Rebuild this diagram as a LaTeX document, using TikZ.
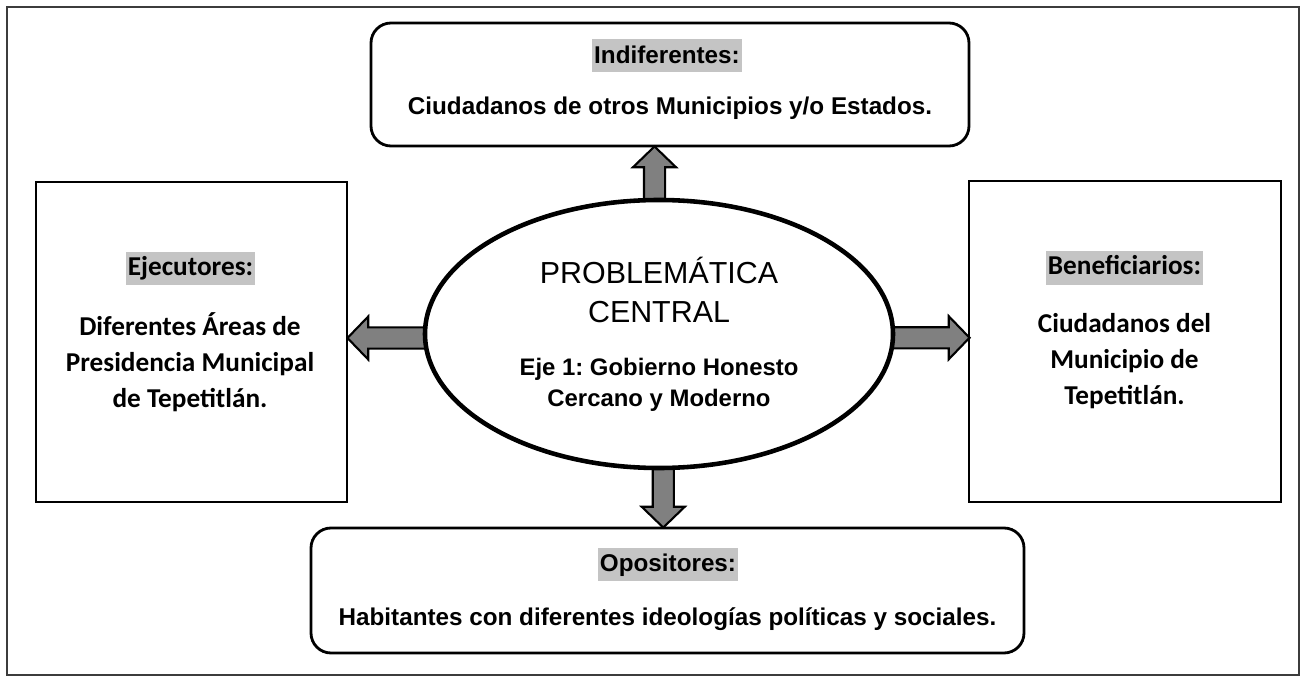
\documentclass[tikz,border=0pt]{standalone}
\usepackage{fontspec}
\setmainfont{Liberation Sans}
\newfontfamily\calibrifont{Carlito}
\usepackage{tikz}
\usetikzlibrary{shapes.geometric, shapes.arrows, positioning, calc, backgrounds}
\definecolor{arrowgray}{RGB}{128,128,128}
\definecolor{hlgray}{RGB}{196,196,196}
\definecolor{framegray}{RGB}{60,60,60}
\tikzstyle{pageframe} = [rectangle, draw=framegray, line width=0.8pt, inner sep=0pt]
\tikzstyle{roundbox} = [rectangle, rounded corners=0.4cm, draw=black, line width=1.6pt, inner sep=0pt]
\tikzstyle{sidebox} = [rectangle, draw=black, line width=1.6pt, inner sep=0pt]
\tikzstyle{central} = [ellipse, draw=black, line width=2.6pt, fill=white, inner sep=0pt]
\tikzstyle{blockarrow} = [single arrow, draw=black, line width=1.2pt, fill=arrowgray, inner xsep=0pt, inner ysep=0.19cm, single arrow head extend=0.22cm, single arrow tip angle=92]
\tikzstyle{arialhead} = [fill=hlgray, inner xsep=1pt, inner ysep=0pt, text height=0.48cm, text depth=0.18cm, font=\fontsize{13.8}{16}\selectfont\bfseries]
\tikzstyle{arialtext} = [inner sep=0pt, font=\fontsize{13.8}{16}\selectfont\bfseries]
\tikzstyle{calibrihead} = [fill=hlgray, inner xsep=1pt, inner ysep=0pt, text height=0.47cm, text depth=0.19cm, font=\calibrifont\fontsize{15.5}{18}\selectfont\bfseries]
\tikzstyle{calibritext} = [align=center, inner sep=0pt, font=\calibrifont\fontsize{15.5}{20.5}\selectfont\bfseries]

\begin{document}
\frenchspacing
\begin{tikzpicture}

\useasboundingbox (0,0) rectangle (26.08,-13.54);

% Page frame
\node[pageframe, minimum width=25.84cm, minimum height=13.36cm] (frame) at (13.06,-6.82) {};

% Central problem
\node[central, minimum width=9.36cm, minimum height=5.36cm] (prob) at (13.18,-6.68) {};
\node[align=center, inner sep=0pt, font=\fontsize{17.3}{22.2}\selectfont] (probtitle) at (13.18,-5.80) {PROBLEM\'ATICA\\CENTRAL};
\node[align=center, inner sep=0pt, font=\fontsize{13.6}{18}\selectfont\bfseries] (probeje) at (13.18,-7.70) {Eje 1: Gobierno Honesto\\Cercano y Moderno};

% Indiferentes (top)
\node[roundbox, minimum width=11.96cm, minimum height=2.46cm] (indif) at (13.40,-1.69) {};
\node[arialhead] (indiftitle) at (13.34,-1.12) {Indiferentes:};
\node[arialtext] (indiftext) at (13.40,-2.16) {Ciudadanos de otros Municipios y/o Estados.};

% Ejecutores (left)
\node[sidebox, minimum width=6.22cm, minimum height=6.40cm] (ejec) at (3.83,-6.84) {};
\node[calibrihead] (ejectitle) at (3.81,-5.37) {Ejecutores:};
\node[calibritext] (ejectext) at (3.80,-7.24) {Diferentes \'Areas de\\Presidencia Municipal\\de Tepetitl\'an.};

% Beneficiarios (right)
\node[sidebox, minimum width=6.24cm, minimum height=6.42cm] (benef) at (22.50,-6.83) {};
\node[calibrihead] (beneftitle) at (22.49,-5.36) {Beneficiarios:};
\node[calibritext] (beneftext) at (22.49,-7.23) {Ciudadanos del\\Municipio de\\Tepetitl\'an.};

% Opositores (bottom)
\node[roundbox, minimum width=14.26cm, minimum height=2.50cm] (opos) at (13.35,-11.81) {};
\node[arialhead] (opostitle) at (13.36,-11.28) {Opositores:};
\node[arialtext] (opostext) at (13.35,-12.38) {Habitantes con diferentes ideolog\'ias pol\'iticas y sociales.};

% Arrows out of the central problem
\begin{scope}[on background layer]
\node[blockarrow, rotate=90, minimum height=1.20cm] (arrup) at ([xshift=-0.2cm, yshift=-0.18cm]$(indif.south)!0.5!(prob.north)$) {};
\node[blockarrow, rotate=180, minimum height=1.68cm] (arrleft) at ([xshift=0.18cm]$(ejec.east)!0.5!(prob.west)$) {};
\node[blockarrow, minimum height=1.68cm] (arrright) at ([xshift=-0.18cm]$(prob.east)!0.5!(benef.west)$) {};
\node[blockarrow, rotate=-90, minimum height=1.32cm] (arrdown) at ([yshift=0.18cm]$(prob.south)!0.5!(opos.north)$) {};
\end{scope}

\end{tikzpicture}
\end{document}
